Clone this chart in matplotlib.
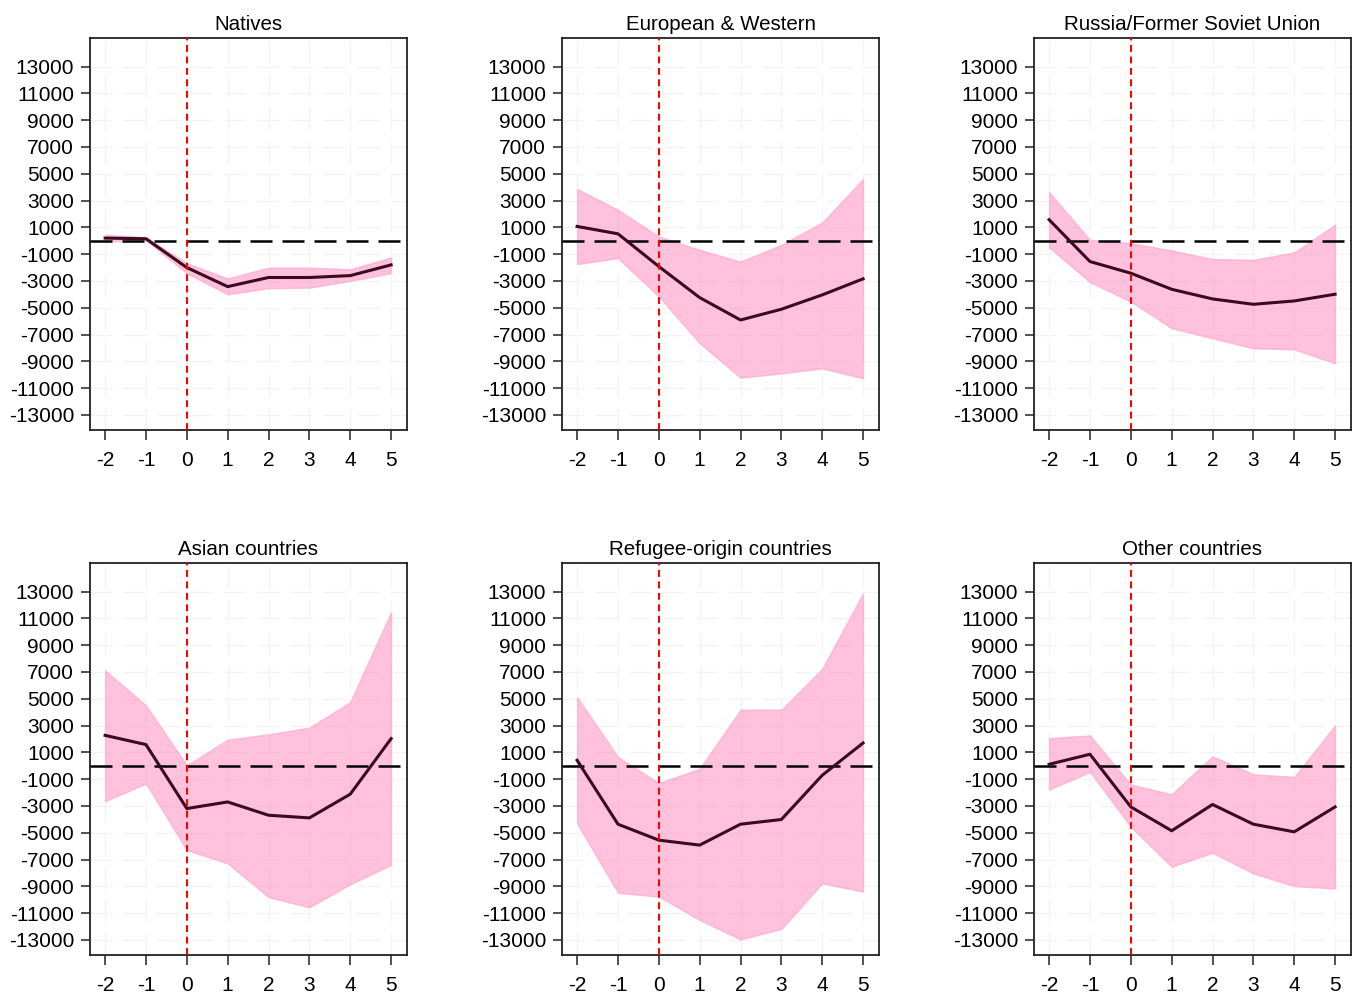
import matplotlib
matplotlib.use("Agg")
import matplotlib.pyplot as plt

plt.rcParams["font.family"] = ["Liberation Sans", "DejaVu Sans"]
plt.rcParams["axes.unicode_minus"] = False

years = [-2, -1, 0, 1, 2, 3, 4, 5]
yticks = [13000, 11000, 9000, 7000, 5000, 3000, 1000, -1000, -3000,
          -5000, -7000, -9000, -11000, -13000]

titles = ["Natives", "European & Western", "Russia/Former Soviet Union",
          "Asian countries", "Refugee-origin countries", "Other countries"]

natives_est = [200, 150, -2000, -3420, -2740, -2740, -2600, -1800]
natives_hi = [450, 270, -1670, -2800, -2000, -2000, -2120, -1250]
natives_lo = [-50, 30, -2420, -4000, -3540, -3500, -3000, -2420]

europe_est = [1070, 520, -1920, -4240, -5910, -5110, -4040, -2840]
europe_hi = [3870, 2320, 320, -670, -1550, -300, 1370, 4610]
europe_lo = [-1750, -1300, -4160, -7650, -10220, -9900, -9530, -10270]

russia_est = [1570, -1550, -2420, -3620, -4340, -4740, -4490, -3990]
russia_hi = [3640, 70, -170, -720, -1350, -1420, -870, 1200]
russia_lo = [-500, -3090, -4540, -6530, -7280, -8030, -8100, -9150]

asia_est = [2270, 1580, -3190, -2700, -3690, -3890, -2120, 2020]
asia_hi = [7120, 4510, 40, 1950, 2350, 2850, 4760, 11460]
asia_lo = [-2650, -1330, -6300, -7290, -9810, -10560, -8850, -7410]

refugee_est = [410, -4360, -5550, -5920, -4360, -4010, -710, 1700]
refugee_hi = [5130, 660, -1280, -210, 4190, 4190, 7240, 12880]
refugee_lo = [-4310, -9480, -9770, -11510, -12960, -12180, -8780, -9400]

other_est = [110, 860, -3070, -4850, -2890, -4360, -4930, -3070]
other_hi = [2070, 2270, -1400, -2120, 710, -630, -830, 3020]
other_lo = [-1780, -460, -4560, -7540, -6500, -8040, -8980, -9160]

series = [
    (natives_est, natives_lo, natives_hi),
    (europe_est, europe_lo, europe_hi),
    (russia_est, russia_lo, russia_hi),
    (asia_est, asia_lo, asia_hi),
    (refugee_est, refugee_lo, refugee_hi),
    (other_est, other_lo, other_hi),
]

W, H = 1357, 992
fig = plt.figure(figsize=(W / 100, H / 100), dpi=100)

lefts = [90, 562, 1034]
tops = [38, 563]
aw, ah = 317, 392

for i, (est, lo, hi) in enumerate(series):
    left = lefts[i % 3]
    top = tops[i // 3]
    ax = fig.add_axes([left / W, 1 - (top + ah) / H, aw / W, ah / H])

    ax.set_xlim(-2.37, 5.39)
    ax.set_ylim(-14120, 15130)
    ax.set_xticks(years)
    ax.set_xticklabels([str(v) for v in years])
    ax.set_yticks(yticks)
    ax.set_yticklabels([str(v) for v in yticks])
    ax.grid(True, color="#f1f4f1", linewidth=1.0, linestyle=(0, (16, 8)))
    ax.set_axisbelow(True)

    ax.fill_between(years, lo, hi, facecolor="#ff8fc0", alpha=0.55,
                    edgecolor="#ff9dc8", linewidth=1.0, zorder=2)
    ax.plot(years, est, color="#3a0a1f", linewidth=2.2, zorder=4)
    ax.axhline(0, color="black", linewidth=1.8, linestyle=(0, (8.8, 4)), zorder=3)
    ax.axvline(0, color="#ff0000", linewidth=1.5, linestyle=(0, (3.3, 2.2)), zorder=5)

    ax.tick_params(axis="both", labelsize=15, colors="#333333",
                   labelcolor="black", width=1.2)
    ax.tick_params(axis="x", length=7, pad=8)
    ax.tick_params(axis="y", length=6.5, pad=5)
    for sp in ax.spines.values():
        sp.set_linewidth(1.3)
        sp.set_color("#222222")
    ax.set_title(titles[i], fontsize=14.8, pad=6)

fig.savefig("out.png", dpi=100, facecolor="white")
